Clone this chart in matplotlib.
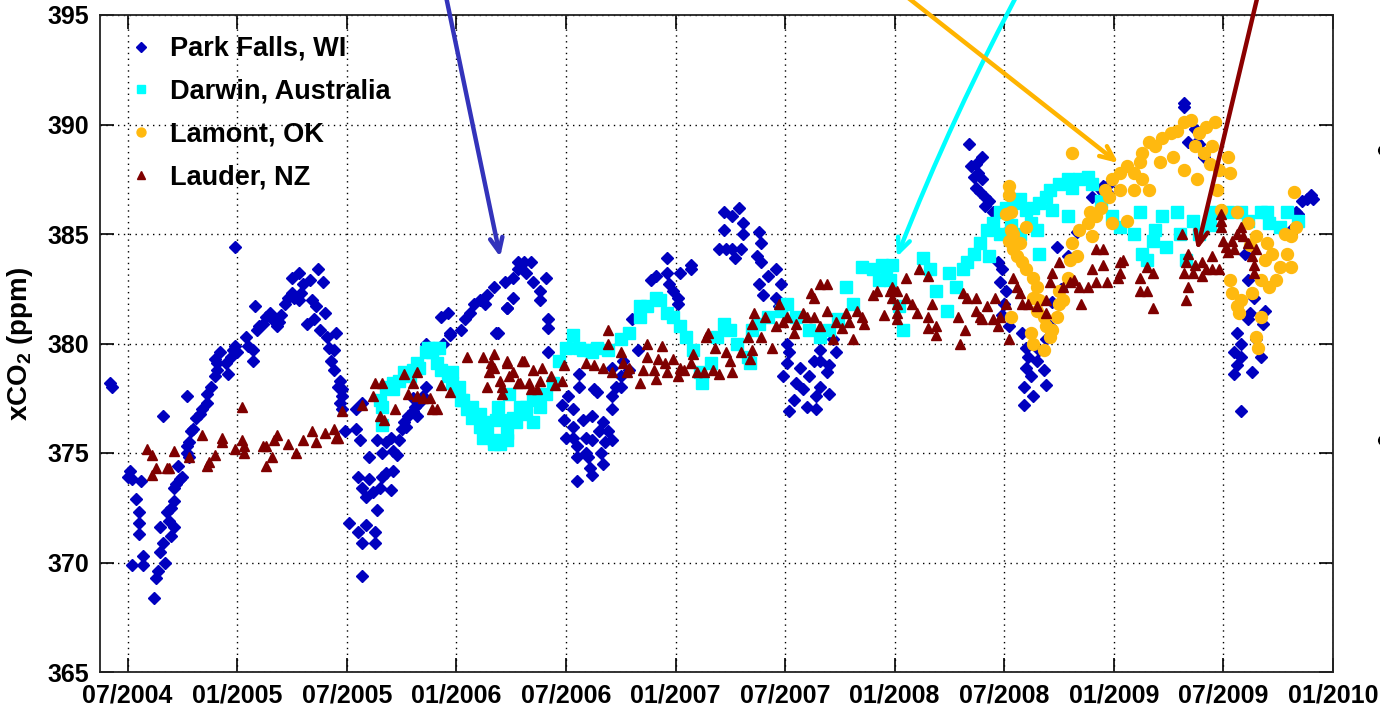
import numpy as np
import matplotlib
matplotlib.use("Agg")
import matplotlib.pyplot as plt
from matplotlib.lines import Line2D

plt.rcParams["font.family"] = ["Liberation Sans", "DejaVu Sans"]
plt.rcParams["font.weight"] = "bold"
plt.rcParams["mathtext.fontset"] = "custom"
plt.rcParams["mathtext.rm"] = "Liberation Sans:bold"
plt.rcParams["mathtext.bf"] = "Liberation Sans:bold"

# ---------------------------------------------------------------------------
# xCO2 (ppm) por estação, tempo em ano decimal
park_x = [2004.42, 2004.43, 2004.51, 2004.52, 2004.56, 2004.50, 2004.54, 2004.55, 2004.55, 2004.55,
          2004.52, 2004.57, 2004.57, 2004.62, 2004.63, 2004.64, 2004.65, 2004.66, 2004.65, 2004.67,
          2004.70, 2004.71, 2004.68, 2004.70, 2004.71, 2004.69, 2004.72, 2004.74, 2004.75, 2004.73,
          2004.71, 2004.77, 2004.77, 2004.78, 2004.78, 2004.79, 2004.80, 2004.81, 2004.83, 2004.84,
          2004.77, 2004.66, 2004.86, 2004.86, 2004.88, 2004.90, 2004.91, 2004.91, 2004.90, 2004.92,
          2004.96, 2004.95, 2004.97, 2004.98, 2004.99, 2005.00, 2004.99, 2005.04, 2005.05, 2005.07,
          2005.07, 2005.08, 2005.09, 2005.10, 2005.12, 2005.13, 2005.15, 2005.16, 2005.18, 2005.19,
          2005.20, 2005.22, 2005.23, 2005.25, 2005.26, 2005.28, 2005.29, 2005.25, 2005.28, 2005.33,
          2005.37, 2005.39, 2005.30, 2005.34, 2005.36, 2005.32, 2005.35, 2005.38, 2005.40, 2005.41,
          2005.42, 2005.44, 2005.45, 2005.43, 2005.44, 2005.47, 2005.46, 2005.48, 2005.48, 2005.47,
          2005.48, 2005.49, 2005.54, 2005.56, 2005.57, 2005.54,
          2005.51, 2005.55, 2005.57, 2005.57, 2005.59, 2005.63, 2005.63, 2005.55, 2005.57, 2005.59,
          2005.60, 2005.62, 2005.64, 2005.65, 2005.66, 2005.68, 2005.70, 2005.71, 2005.64, 2005.66,
          2005.68, 2005.70, 2005.71, 2005.73, 2005.74, 2005.75, 2005.76, 2005.78, 2005.80, 2005.81,
          2005.82, 2005.80, 2005.83, 2005.60, 2005.85, 2005.86, 2005.77,
          2005.93, 2005.97, 2006.02, 2006.04, 2006.06, 2006.08, 2006.11, 2006.13, 2006.17, 2006.14,
          2006.18, 2006.23, 2006.22, 2006.26, 2006.26, 2006.28, 2006.28, 2006.31, 2006.34, 2006.32,
          2006.35, 2006.38, 2006.41, 2006.38, 2006.42, 2006.42, 2006.42, 2005.86, 2005.94, 2005.96,
          2005.97, 2006.19, 2006.23,
          2006.48, 2006.49, 2006.51, 2006.53, 2006.53, 2006.53, 2006.55, 2006.55, 2006.55, 2006.56,
          2006.56, 2006.58, 2006.59, 2006.60, 2006.62, 2006.62, 2006.62, 2006.64, 2006.65, 2006.67,
          2006.68, 2006.67, 2006.69, 2006.71, 2006.71, 2006.73, 2006.75, 2006.71, 2006.76, 2006.71,
          2006.50, 2006.59, 2006.66, 2006.61,
          2006.80, 2006.89, 2006.91, 2006.96, 2006.96, 2006.97, 2006.99, 2007.01, 2007.01, 2007.02,
          2007.07, 2007.07, 2006.91, 2006.63, 2006.75, 2006.79, 2006.83,
          2007.22, 2007.29, 2007.26, 2007.31, 2007.22, 2007.20, 2007.23, 2007.26, 2007.30, 2007.27,
          2007.31, 2007.38, 2007.39, 2007.37, 2007.39, 2007.42, 2007.46, 2007.38, 2007.40, 2007.48,
          2007.46, 2007.47,
          2007.51, 2007.49, 2007.52, 2007.54, 2007.55, 2007.57, 2007.58, 2007.60, 2007.61, 2007.63,
          2007.64, 2007.64, 2007.66, 2007.69, 2007.70, 2007.70, 2007.66, 2007.73, 2007.52, 2007.51,
          2007.66, 2007.72,
          2008.34, 2008.35, 2008.37, 2008.40, 2008.36, 2008.38, 2008.40, 2008.37, 2008.39, 2008.41,
          2008.43, 2008.41, 2008.45,
          2008.47, 2008.49, 2008.48, 2008.51, 2008.50, 2008.49, 2008.52, 2008.58, 2008.60, 2008.61,
          2008.60, 2008.62, 2008.59, 2008.63, 2008.59, 2008.65, 2008.66, 2008.68, 2008.69, 2008.69,
          2008.71, 2008.74, 2008.79, 2008.83, 2008.90, 2008.95, 2008.97, 2008.98, 2008.76, 2008.72,
          2009.32, 2009.32, 2009.37, 2009.38, 2009.39, 2009.34, 2008.94, 2008.95, 2009.41,
          2009.56, 2009.58, 2009.55, 2009.58, 2009.56, 2009.55, 2009.63, 2009.61, 2009.62, 2009.64,
          2009.65, 2009.67, 2009.68, 2009.69, 2009.58, 2009.61, 2009.60,
          2009.83, 2009.86, 2009.88, 2009.90, 2009.91, 2009.84, 2009.81]
park_y = [378.2, 378.0, 374.2, 373.8, 373.7, 373.9, 372.9, 372.3, 371.8, 371.3,
          369.9, 370.3, 369.9, 368.4, 369.3, 369.6, 370.5, 370.9, 371.6, 370.0,
          371.2, 371.6, 372.3, 372.5, 372.8, 371.9, 373.6, 373.8, 373.9, 374.4,
          373.4, 375.3, 375.0, 374.8, 375.5, 376.0, 376.1, 376.6, 376.8, 377.0,
          377.6, 376.7, 377.3, 377.7, 378.0, 378.5, 378.8, 379.1, 379.3, 379.6,
          378.6, 379.1, 379.4, 379.7, 379.9, 379.6, 384.4, 380.3, 379.9, 379.2,
          379.7, 381.7, 380.6, 380.8, 380.9, 381.2, 381.4, 381.1, 380.8, 381.0,
          381.3, 381.8, 382.1, 382.3, 382.1, 382.0, 382.3, 383.0, 383.2, 382.9,
          383.4, 382.8, 382.7, 382.0, 381.7, 380.9, 381.1, 380.6, 381.4, 380.3,
          379.8, 379.7, 380.5, 379.2, 378.8, 378.3, 378.0, 377.9, 377.6, 377.3,
          377.0, 376.0, 376.1, 375.6, 377.3, 377.0,
          371.8, 371.4, 370.9, 369.4, 371.7, 371.4, 370.9, 373.9, 373.4, 373.0,
          373.8, 373.2, 372.4, 373.4, 373.9, 374.1, 373.3, 374.2, 375.6, 375.0,
          375.5, 375.7, 375.1, 374.9, 375.6, 376.1, 376.4, 376.7, 376.9, 377.1,
          376.7, 377.5, 377.3, 374.8, 377.6, 378.0, 376.2,
          381.2, 380.4, 380.6, 381.1, 381.4, 381.8, 382.0, 381.8, 382.6, 382.2,
          380.5, 381.6, 382.8, 383.0, 382.1, 383.4, 383.7, 383.7, 383.7, 383.2,
          382.8, 382.4, 383.0, 382.0, 381.1, 380.7, 379.6, 380.0, 380.0, 381.4,
          380.5, 380.5, 381.6,
          377.2, 376.5, 377.6, 377.0, 376.2, 375.7, 375.3, 374.8, 373.7, 378.0,
          378.6, 376.5, 375.7, 374.8, 375.6, 376.7, 374.0, 377.8, 376.0, 376.4,
          375.5, 374.5, 376.0, 377.0, 377.6, 378.0, 378.5, 378.9, 379.2, 375.6,
          375.7, 375.0, 375.0, 374.3,
          381.1, 382.9, 383.1, 383.9, 383.2, 382.7, 382.4, 382.1, 381.8, 383.2,
          383.6, 383.4, 382.1, 377.9, 378.0, 378.8, 379.7,
          386.0, 386.2, 385.8, 385.5, 385.2, 384.3, 384.3, 384.3, 384.3, 383.9,
          385.0, 385.1, 384.6, 384.0, 383.7, 383.1, 383.4, 382.7, 382.2, 382.7,
          382.1, 381.7,
          379.1, 378.5, 376.9, 377.4, 378.2, 378.9, 377.9, 377.1, 378.5, 379.2,
          377.6, 377.0, 378.0, 378.7, 377.7, 379.0, 379.7, 379.6, 379.6, 380.0,
          379.2, 380.2,
          389.1, 388.1, 388.2, 388.5, 387.6, 387.8, 387.5, 387.1, 386.9, 386.7,
          386.5, 386.3, 386.0,
          383.7, 383.4, 382.8, 382.4, 381.8, 381.3, 380.8, 380.5, 379.8, 379.4,
          378.9, 378.5, 378.0, 377.6, 377.2, 379.2, 379.7, 378.8, 378.1, 380.2,
          380.8, 384.4, 384.0, 385.1, 386.7, 387.2, 386.9, 387.3, 382.5, 381.9,
          391.0, 390.8, 389.8, 389.2, 389.1, 389.2, 387.0, 386.9, 388.5,
          380.5, 380.0, 379.6, 379.4, 379.0, 378.6, 378.7, 381.1, 381.4, 382.1,
          380.2, 379.4, 380.9, 381.5, 376.9, 382.9, 384.1,
          386.0, 386.5, 386.6, 386.8, 386.6, 385.9, 385.2]

darwin_x = [2005.66, 2005.65, 2005.68, 2005.71, 2005.74, 2005.76, 2005.80, 2005.82, 2005.86, 2005.87,
            2005.90, 2005.91, 2005.93, 2005.96, 2005.98, 2006.01, 2006.03, 2006.05, 2006.07, 2006.11,
            2006.11, 2006.14, 2006.17, 2006.20, 2006.23, 2006.23, 2006.26, 2006.29, 2006.32, 2006.35,
            2006.38, 2006.41, 2006.44, 2006.47, 2006.50, 2006.53, 2006.56, 2006.61, 2006.64,
            2005.66, 2005.71, 2005.79, 2005.83, 2005.89, 2005.92, 2005.98, 2006.02, 2006.07, 2006.12,
            2006.17, 2006.23, 2006.27, 2006.32, 2006.35, 2006.19, 2006.24, 2006.12, 2006.18,
            2006.58, 2006.62, 2006.69, 2006.75, 2006.79, 2006.84, 2006.87, 2006.93, 2006.96, 2006.99,
            2007.02, 2007.05, 2007.08, 2007.11, 2007.12, 2007.16, 2007.19, 2007.22, 2007.25, 2007.28,
            2007.33, 2007.34, 2007.35, 2007.38, 2007.42, 2007.48, 2007.51, 2007.55, 2007.61, 2007.66,
            2007.70, 2007.74, 2007.78, 2007.81, 2007.85, 2007.90, 2007.93, 2006.91, 2006.84, 2007.94,
            2007.99, 2007.96,
            2007.98, 2008.02, 2008.04, 2008.13, 2008.16, 2008.19, 2008.24, 2008.25, 2008.28, 2008.31,
            2008.33, 2008.36, 2008.39, 2008.42, 2008.45, 2008.48, 2008.51, 2008.54, 2008.57, 2008.60,
            2008.63, 2008.66, 2008.69, 2008.71, 2008.75, 2008.79, 2008.81, 2008.84, 2008.88, 2008.90,
            2008.66, 2008.72, 2008.65, 2008.79, 2008.43, 2008.48, 2008.53, 2008.57, 2008.62,
            2008.99, 2009.03, 2009.09, 2009.12, 2009.13, 2009.15, 2009.18, 2009.22, 2009.24, 2009.29,
            2009.30, 2009.36, 2009.39, 2009.33, 2009.45, 2009.52, 2009.58, 2009.61, 2009.67, 2009.70,
            2009.76, 2009.79, 2009.84, 2008.94, 2009.19, 2009.44, 2009.71]
darwin_y = [376.3, 377.4, 378.0, 378.2, 378.3, 378.7, 378.8, 379.1, 379.6, 379.8,
            379.8, 379.1, 378.8, 378.5, 378.7, 378.0, 377.4, 377.0, 377.1, 376.8,
            376.2, 375.9, 375.6, 375.4, 375.9, 376.5, 376.6, 377.1, 377.1, 377.4,
            377.1, 377.7, 378.2, 379.2, 379.8, 380.4, 379.8, 379.7, 379.8,
            377.1, 377.9, 378.5, 378.9, 379.6, 379.8, 378.2, 377.4, 376.6, 375.7,
            375.4, 375.6, 376.4, 376.8, 376.4, 377.1, 377.7, 376.4, 376.5,
            379.7, 379.6, 379.7, 380.2, 380.5, 381.2, 381.7, 382.0, 381.4, 381.2,
            380.8, 380.3, 379.7, 378.7, 378.2, 379.1, 380.3, 380.9, 380.6, 380.0,
            379.4, 379.1, 380.6, 380.9, 381.2, 381.5, 381.8, 381.2, 380.6, 380.3,
            380.6, 381.1, 382.6, 381.8, 383.5, 383.4, 382.9, 382.1, 381.7, 383.6,
            383.6, 383.5,
            382.9, 381.7, 380.6, 383.9, 383.4, 382.4, 381.5, 383.2, 382.6, 383.4,
            383.7, 384.1, 384.6, 385.2, 385.5, 386.0, 386.2, 386.4, 386.6, 386.1,
            386.2, 386.4, 386.7, 387.0, 387.3, 387.5, 387.1, 387.5, 387.6, 387.3,
            384.1, 386.1, 385.2, 385.8, 384.0, 385.0, 385.4, 385.0, 385.5,
            385.8, 385.3, 385.0, 386.0, 384.1, 383.8, 384.7, 385.8, 384.4, 386.0,
            385.0, 385.6, 385.0, 383.8, 386.0, 386.0, 386.0, 385.6, 386.0, 386.0,
            385.3, 386.0, 385.6, 386.5, 385.2, 385.4, 385.5]

lamont_x = [2008.81, 2008.52, 2008.52, 2008.51, 2008.53, 2008.53, 2008.54, 2008.52, 2008.60, 2008.57,
            2008.54, 2008.56, 2008.58, 2008.60, 2008.63, 2008.65, 2008.63, 2008.65, 2008.68, 2008.69,
            2008.71, 2008.68, 2008.63, 2008.62, 2008.53, 2008.72, 2008.74, 2008.75, 2008.75, 2008.79,
            2008.80, 2008.81, 2008.84, 2008.88, 2008.90, 2008.92, 2008.94, 2008.98, 2008.99, 2009.03,
            2009.06, 2009.09, 2009.12, 2009.13, 2009.16, 2009.19, 2009.22, 2009.26, 2009.29, 2009.32,
            2009.35, 2009.39, 2009.42, 2009.46, 2009.45, 2009.44, 2009.48, 2009.53, 2009.52, 2009.16,
            2009.13, 2009.09, 2009.03, 2009.06, 2008.99, 2009.32, 2009.27, 2009.38, 2009.49, 2009.56,
            2009.61, 2009.65, 2009.70, 2009.72, 2009.76, 2009.74, 2009.71, 2009.67, 2009.63, 2009.58,
            2009.56, 2009.57, 2009.67, 2009.65, 2009.66, 2009.79, 2009.81, 2009.83, 2009.82, 2009.81,
            2009.53, 2009.54, 2008.66, 2008.77, 2008.83, 2008.89, 2008.96, 2009.21, 2009.37, 2009.41,
            2009.47, 2009.62, 2009.69, 2009.78]
lamont_y = [388.7, 387.2, 386.8, 385.9, 386.0, 385.2, 385.0, 384.7, 385.3, 384.6,
            384.3, 384.0, 383.7, 383.4, 383.0, 382.6, 382.1, 381.5, 381.2, 380.8,
            380.3, 379.7, 380.0, 380.5, 381.2, 380.6, 381.2, 381.8, 382.4, 383.0,
            383.8, 384.6, 385.2, 385.5, 384.9, 385.8, 386.2, 386.7, 387.5, 387.8,
            388.1, 387.8, 388.3, 388.7, 389.2, 389.0, 389.4, 389.6, 389.7, 390.1,
            390.2, 389.6, 389.9, 390.1, 389.0, 388.2, 387.9, 387.8, 388.5, 387.0,
            387.5, 387.0, 387.0, 385.6, 385.5, 387.9, 388.5, 387.5, 386.1, 386.0,
            385.5, 384.9, 384.6, 384.1, 383.5, 382.9, 382.6, 382.9, 382.3, 382.0,
            381.7, 381.4, 381.2, 380.3, 379.8, 384.1, 384.9, 385.3, 386.9, 383.5,
            382.9, 382.3, 382.0, 382.0, 384.0, 386.0, 387.0, 388.3, 389.0, 388.7,
            387.0, 384.5, 383.8, 385.0]

lauder_x = [2004.59, 2004.61, 2004.61, 2004.63, 2004.68, 2004.69, 2004.71, 2004.78, 2004.84, 2004.86,
            2004.87, 2004.90, 2004.93, 2004.93, 2004.99, 2005.02, 2005.02, 2005.03, 2005.03, 2005.12,
            2005.13, 2005.13, 2005.16, 2005.17, 2005.18, 2005.23, 2005.27, 2005.30, 2005.34, 2005.36,
            2005.40, 2005.44, 2005.45, 2005.46, 2005.48,
            2005.57, 2005.63, 2005.66, 2005.62, 2005.65, 2005.67, 2005.72, 2005.76, 2005.80, 2005.82,
            2005.78, 2005.82, 2005.85, 2005.88, 2005.89, 2005.91, 2005.93, 2005.97,
            2006.05, 2006.12, 2006.14, 2006.17, 2006.17, 2006.20, 2006.21, 2006.23, 2006.24, 2006.26,
            2006.28, 2006.30, 2006.33, 2006.35, 2006.37, 2006.39, 2006.43, 2006.16, 2006.15, 2006.21,
            2006.23, 2006.29, 2006.31, 2006.34, 2006.38, 2006.45, 2006.48, 2006.49, 2006.59, 2006.63,
            2006.69, 2006.69, 2006.67, 2006.71, 2006.75, 2006.76, 2006.78, 2006.79, 2006.84, 2006.85,
            2006.87, 2006.87, 2006.90, 2006.91, 2006.92, 2006.94, 2006.95, 2006.96, 2006.99, 2007.01,
            2007.02, 2007.04, 2007.07, 2007.08, 2007.10, 2007.13, 2007.14, 2007.15, 2007.18, 2007.17,
            2007.20, 2007.23, 2007.25, 2007.26, 2007.30, 2007.33, 2007.34, 2007.35, 2007.35, 2007.36,
            2007.39, 2007.41, 2007.44, 2007.46, 2007.47, 2007.49, 2007.51, 2007.54, 2007.55, 2007.58,
            2007.60, 2007.62, 2007.63, 2007.63, 2007.66, 2007.66, 2007.69, 2007.69, 2007.73, 2007.72,
            2007.76, 2007.78, 2007.79, 2007.81, 2007.83, 2007.85, 2007.86, 2007.90, 2007.92, 2007.99,
            2008.01, 2007.98, 2007.95, 2007.99, 2008.01, 2008.01, 2008.01, 2008.05, 2008.11, 2008.15,
            2008.05, 2008.08, 2008.10, 2008.15, 2008.15, 2008.17, 2008.19, 2008.19, 2008.30, 2008.29,
            2008.31, 2008.32, 2008.33, 2008.37, 2008.37, 2008.39, 2008.40, 2008.42, 2008.45, 2008.47,
            2008.46, 2008.48, 2008.51, 2008.52, 2008.54, 2008.56, 2008.57, 2008.58, 2008.61, 2008.65,
            2008.69, 2008.71, 2008.72, 2008.75, 2008.77, 2008.80, 2008.82, 2008.84, 2008.85, 2008.88,
            2008.90, 2008.92, 2008.92, 2008.95, 2008.97, 2008.69, 2008.95,
            2009.03, 2009.04, 2009.03, 2009.02, 2009.12, 2009.12, 2009.15, 2009.15, 2009.18, 2009.18,
            2009.31, 2009.32, 2009.34, 2009.33, 2009.34, 2009.33, 2009.36, 2009.37, 2009.40, 2009.40,
            2009.42, 2009.45, 2009.45, 2009.48, 2009.49, 2009.49, 2009.49, 2009.50, 2009.51, 2009.52,
            2009.54, 2009.55, 2009.56, 2009.58, 2009.59, 2009.61, 2009.63, 2009.64, 2009.64, 2009.65]
lauder_y = [375.2, 374.9, 374.0, 374.3, 374.3, 374.3, 375.1, 374.8, 375.8, 374.4,
            374.6, 374.9, 375.7, 375.5, 375.2, 377.1, 375.6, 375.3, 375.0, 375.3,
            375.3, 374.4, 374.8, 375.6, 375.8, 375.4, 375.0, 375.6, 376.0, 375.5,
            375.9, 376.1, 375.7, 375.7, 376.9,
            377.2, 378.2, 378.2, 377.6, 376.7, 376.5, 377.0, 378.6, 378.2, 378.7,
            377.7, 377.6, 377.5, 377.5, 377.0, 377.0, 378.1, 377.8,
            379.4, 379.4, 378.0, 379.5, 378.9, 378.3, 377.7, 379.2, 378.5, 378.7,
            378.2, 379.2, 378.2, 378.8, 377.9, 378.9, 378.5, 379.1, 378.7, 378.0,
            379.1, 378.2, 379.2, 377.9, 378.3, 378.1, 378.3, 379.0, 379.1, 379.0,
            380.6, 380.0, 378.9, 378.7, 379.6, 379.1, 378.7, 378.9, 378.2, 378.8,
            379.4, 380.0, 378.8, 378.4, 379.3, 379.9, 379.1, 378.7, 379.3, 378.5,
            378.9, 378.8, 379.1, 379.5, 378.7, 378.7, 380.3, 380.5, 379.8, 378.8,
            378.6, 379.6, 379.2, 378.7, 379.6, 380.3, 379.3, 379.7, 380.9, 381.4,
            380.3, 381.2, 379.8, 380.8, 381.8, 381.0, 381.2, 380.5, 380.9, 381.4,
            381.2, 382.3, 382.1, 381.2, 382.7, 380.8, 382.7, 381.5, 381.0, 380.2,
            380.7, 381.4, 381.0, 380.2, 381.5, 381.2, 380.9, 382.2, 382.4, 382.6,
            382.4, 382.4, 381.3, 382.1, 381.8, 381.4, 381.1, 383.0, 383.4, 383.1,
            382.1, 381.8, 381.4, 380.7, 381.2, 381.8, 380.8, 380.4, 380.0, 381.2,
            382.3, 380.6, 382.1, 382.1, 381.5, 381.2, 381.1, 381.7, 381.1, 380.8,
            382.1, 381.2, 381.8, 380.2, 383.0, 382.6, 382.3, 381.8, 381.8, 381.7,
            382.0, 382.8, 383.2, 383.7, 382.6, 382.8, 382.9, 382.6, 381.8, 382.6,
            383.4, 384.3, 382.8, 383.6, 382.8, 381.4, 384.3,
            383.7, 383.8, 383.2, 383.0, 383.0, 382.4, 382.4, 383.5, 383.2, 381.6,
            385.0, 383.2, 384.1, 383.7, 382.6, 382.0, 383.2, 383.6, 383.7, 383.1,
            383.4, 383.4, 384.0, 383.4, 385.9, 385.6, 385.3, 384.7, 384.4, 384.2,
            384.7, 384.3, 385.0, 385.3, 384.9, 384.6, 384.0, 383.6, 383.2, 384.3]

# Setas: (ano, ppm) da ponta, cores
arrow_tips = [(2006.20, 383.95), (2008.01, 383.95), (2009.02, 388.24), (2009.38, 384.27)]
arrow_colors = ["#3333BB", "#00FFFF", "#FFB400", "#8B0000"]

tick_years = [2004.5, 2005.0, 2005.5, 2006.0, 2006.5, 2007.0, 2007.5, 2008.0, 2008.5, 2009.0, 2009.5, 2010.0]
tick_labels = ["07/2004", "01/2005", "07/2005", "01/2006", "07/2006", "01/2007",
               "07/2007", "01/2008", "07/2008", "01/2009", "07/2009", "01/2010"]

# ---------------------------------------------------------------------------
fig = plt.figure(figsize=(13.8, 7.12), dpi=100)
ax = fig.add_axes([100 / 1380, 1 - 672 / 712, 1233 / 1380, 657 / 712])

ax.plot(park_x, park_y, ls="none", marker="D", ms=6.3, color="#0000BF", mec="#0000BF",
        label="Park Falls, WI")
ax.plot(darwin_x, darwin_y, ls="none", marker="s", ms=8.6, color="#00FFFF", mec="#00FFFF",
        label="Darwin, Australia")
ax.plot(lamont_x, lamont_y, ls="none", marker="o", ms=8.6, color="#FFB90F", mec="#FFB90F",
        label="Lamont, OK")
ax.plot(lauder_x, lauder_y, ls="none", marker="^", ms=7.6, color="#7F0000", mec="#7F0000",
        label="Lauder, NZ")

ax.set_xlim(2004.374, 2010.0)
ax.set_ylim(365, 395)
ax.set_xticks(tick_years)
ax.set_xticklabels(tick_labels)
ax.set_yticks(np.arange(365, 396, 5))

ax.grid(True, color="black", ls=(0, (1, 3.2)), lw=1.0)
ax.tick_params(direction="in", length=10, width=1.2, top=True, right=True,
               labelsize=18, pad=8)
for lab in ax.get_xticklabels() + ax.get_yticklabels():
    lab.set_fontweight("bold")
for sp in ax.spines.values():
    sp.set_linewidth(1.3)
    sp.set_color("#222222")

ax.set_ylabel(r"xCO$_\mathbf{2}$ (ppm)", fontsize=20, fontweight="bold", labelpad=9)

leg = ax.legend(loc="upper left", bbox_to_anchor=(127 / 1380, 1 - 36 / 712),
                bbox_transform=fig.transFigure, frameon=False, fontsize=19.5,
                handlelength=1.0, handletextpad=0.6, labelspacing=0.62,
                borderpad=0, borderaxespad=0, markerscale=0.75, numpoints=1)

# setas de anotação vindas de fora do gráfico
starts_px = [(443, 730), (1024, 730), (888, 730), (1261, 730)]
rads = [0.0, 0.03, 0.0, 0.0]
for (tx, ty), (sx, sy), c, r in zip(arrow_tips, starts_px, arrow_colors, rads):
    ax.annotate("", xy=(tx, ty), xycoords="data",
                xytext=(sx, sy), textcoords="figure pixels",
                arrowprops=dict(arrowstyle="->,head_length=1.0,head_width=0.45",
                                color=c, lw=3.2, shrinkA=0, shrinkB=0,
                                connectionstyle=f"arc3,rad={r}"),
                annotation_clip=False)

# restos de marcas cortadas na margem direita
for yy in (150, 440):
    fig.add_artist(Line2D([1383 / 1380], [1 - yy / 712], transform=fig.transFigure,
                          marker="o", ms=7, color="black", ls="none", clip_on=False))

fig.savefig("out.png", dpi=100)
